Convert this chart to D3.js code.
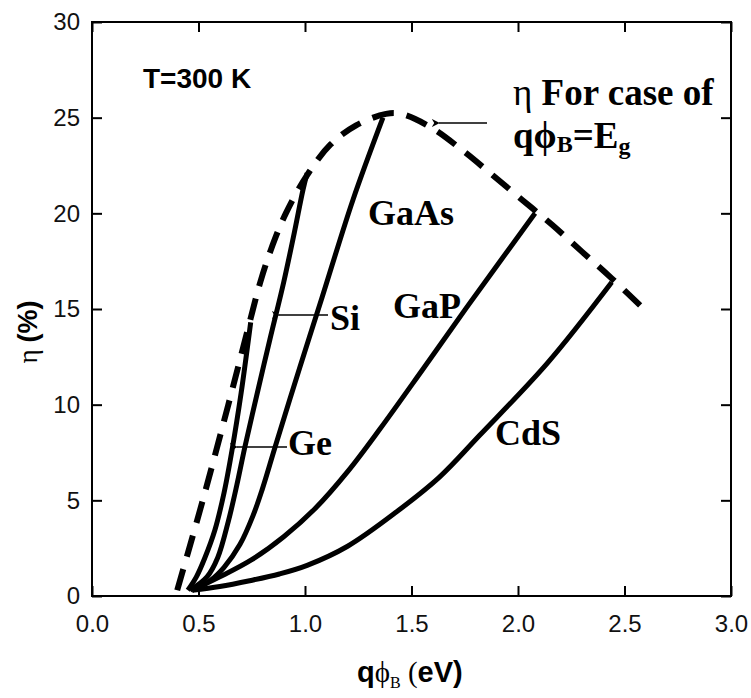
<!DOCTYPE html>
<html>
<head>
<meta charset="utf-8">
<script src="https://cdn.jsdelivr.net/npm/d3@7"></script>
<style>
  body { margin: 0; background: #fff; }
  svg { display: block; }
</style>
</head>
<body>
<div id="chart"></div>
<script>
// Efficiency vs barrier height
const xTicks = [0.0, 0.5, 1.0, 1.5, 2.0, 2.5, 3.0];
const yTicks = [0, 5, 10, 15, 20, 25, 30];

const limitX = [0.40, 0.52, 0.64, 0.74, 0.79, 0.84, 0.91, 1.01, 1.12, 1.24, 1.38, 1.45, 1.59, 1.75, 1.88, 2.02, 2.16, 2.30, 2.44, 2.61];
const limitY = [0.3, 5.0, 10.0, 14.3, 16.4, 18.1, 20.0, 22.0, 23.6, 24.6, 25.2, 25.2, 24.5, 23.2, 22.0, 20.7, 19.4, 18.0, 16.6, 14.8];

const geX = [0.45, 0.49, 0.53, 0.577, 0.62, 0.657, 0.70, 0.745];
const geY = [0.3, 1.0, 2.0, 3.45, 5.4, 7.6, 10.6, 14.3];

const siX = [0.46, 0.54, 0.59, 0.64, 0.68, 0.718, 0.78, 0.835, 0.90, 0.95, 0.99, 1.01];
const siY = [0.3, 1.0, 2.0, 3.9, 5.8, 7.8, 10.8, 13.4, 16.4, 19.0, 21.2, 22.1];

const gaasX = [0.47, 0.554, 0.62, 0.695, 0.756, 0.80, 0.86, 0.977, 1.08, 1.225, 1.366];
const gaasY = [0.3, 0.8, 1.5, 2.7, 4.2, 5.6, 7.8, 12.0, 15.6, 20.7, 25.0];

const gapX = [0.47, 0.60, 0.75, 0.90, 1.05, 1.20, 1.35, 1.55, 1.76, 2.08];
const gapY = [0.3, 1.0, 1.9, 3.1, 4.6, 6.5, 8.7, 11.8, 15.1, 20.0];

const cdsX = [0.47, 0.60, 0.74, 0.88, 1.01, 1.20, 1.43, 1.63, 1.82, 2.14, 2.44];
const cdsY = [0.3, 0.5, 0.8, 1.15, 1.6, 2.6, 4.4, 6.2, 8.4, 12.2, 16.4];

const width = 751, height = 698;
const margin = { top: 22, right: 20, bottom: 102, left: 92 };
const sans = "Arial, 'Liberation Sans', sans-serif";
const serif = "'Times New Roman', 'Liberation Serif', serif";

const svg = d3.select("#chart").append("svg")
    .attr("width", width)
    .attr("height", height);

const x = d3.scaleLinear().domain([0, 3]).range([margin.left, width - margin.right]);
const y = d3.scaleLinear().domain([0, 30]).range([height - margin.bottom, margin.top]);

svg.append("defs").append("marker")
    .attr("id", "arrow")
    .attr("viewBox", "0 0 10 10")
    .attr("refX", 1).attr("refY", 5)
    .attr("markerWidth", 8).attr("markerHeight", 8)
    .attr("markerUnits", "userSpaceOnUse")
    .attr("orient", "auto-start-reverse")
    .append("path")
    .attr("d", "M0,5 L10,0 L7,5 L10,10 Z")
    .attr("fill", "#000");

// Axes, ticks pointing inward on all four sides
svg.append("g")
    .attr("transform", `translate(0,${y(0)})`)
    .call(d3.axisBottom(x).tickValues(xTicks).tickSize(-10).tickPadding(19).tickFormat(d3.format(".1f")));
svg.append("g")
    .attr("transform", `translate(${x(0)},0)`)
    .call(d3.axisLeft(y).tickValues(yTicks).tickSize(-10).tickPadding(12).tickFormat(d3.format("d")));
svg.append("g")
    .attr("transform", `translate(0,${y(30)})`)
    .call(d3.axisTop(x).tickValues(xTicks).tickSize(-10).tickFormat(""));
svg.append("g")
    .attr("transform", `translate(${x(3)},0)`)
    .call(d3.axisRight(y).tickValues(yTicks).tickSize(-10).tickFormat(""));

svg.selectAll(".domain").remove();
svg.selectAll(".tick line").attr("stroke", "#000").attr("stroke-width", 2);
svg.selectAll(".tick text")
    .attr("font-family", sans)
    .attr("font-size", 24)
    .attr("fill", "#111");

svg.append("rect")
    .attr("x", x(0)).attr("y", y(30))
    .attr("width", x(3) - x(0)).attr("height", y(0) - y(30))
    .attr("fill", "none")
    .attr("stroke", "#000")
    .attr("stroke-width", 2);

// Curves
const line = d3.line()
    .x(d => x(d[0]))
    .y(d => y(d[1]))
    .curve(d3.curveCatmullRom.alpha(0.5));

const solids = [[geX, geY], [siX, siY], [gaasX, gaasY], [gapX, gapY], [cdsX, cdsY]];
solids.forEach(([xs, ys]) => {
    svg.append("path")
        .datum(d3.zip(xs, ys))
        .attr("fill", "none")
        .attr("stroke", "#000")
        .attr("stroke-width", 5)
        .attr("d", line);
});

svg.append("path")
    .datum(d3.zip(limitX, limitY))
    .attr("fill", "none")
    .attr("stroke", "#000")
    .attr("stroke-width", 6)
    .attr("stroke-dasharray", "22,13")
    .attr("d", line);

// Labels
const labelFont = (sel, size) => sel
    .attr("font-family", serif)
    .attr("font-weight", "bold")
    .attr("font-size", size)
    .attr("fill", "#000");

svg.append("text").attr("x", 368).attr("y", 225).call(labelFont, 36).text("GaAs");
svg.append("text").attr("x", 393).attr("y", 318).call(labelFont, 36).text("GaP");
svg.append("text").attr("x", 330).attr("y", 330).call(labelFont, 36).text("Si");
svg.append("text").attr("x", 288).attr("y", 455).call(labelFont, 36).text("Ge");
svg.append("text").attr("x", 495).attr("y", 445).call(labelFont, 36).text("CdS");

// Pointer arrows
const arrow = (x1, y1, x2, y2) => svg.append("line")
    .attr("x1", x1).attr("y1", y1).attr("x2", x2).attr("y2", y2)
    .attr("stroke", "#000")
    .attr("stroke-width", 1.5)
    .attr("marker-end", "url(#arrow)");

arrow(328, 315, 279, 315);
arrow(287, 447, 237, 447);
arrow(487, 123, 439, 123);

// Limit curve caption
const cap1 = svg.append("text").attr("x", 513).attr("y", 105).call(labelFont, 37);
cap1.append("tspan").attr("font-weight", "normal").text("η ");
cap1.append("tspan").text("For case of");

const cap2 = svg.append("text").attr("x", 513).attr("y", 148).call(labelFont, 37);
cap2.append("tspan").text("qϕ");
cap2.append("tspan").attr("font-size", 24).attr("dy", 4).text("B");
cap2.append("tspan").attr("dy", -4).text("=E");
cap2.append("tspan").attr("font-size", 24).attr("dy", 6).text("g");

svg.append("text")
    .attr("x", 143).attr("y", 88)
    .attr("font-family", sans)
    .attr("font-weight", "bold")
    .attr("font-size", 28)
    .text("T=300 K");

// Axis titles
const xt = svg.append("text")
    .attr("x", 357).attr("y", 682)
    .attr("font-family", sans)
    .attr("font-weight", "bold")
    .attr("font-size", 29);
xt.append("tspan").text("q");
xt.append("tspan").attr("font-family", serif).attr("font-weight", "normal").text("ϕ");
xt.append("tspan").attr("font-family", serif).attr("font-weight", "normal").attr("font-size", 16).attr("dy", 6).text("B");
xt.append("tspan").attr("font-family", serif).attr("font-weight", "normal").attr("dy", -6).text(" (");
xt.append("tspan").text("eV)");

const yt = svg.append("text")
    .attr("transform", "translate(37,332) rotate(-90)")
    .attr("text-anchor", "middle")
    .attr("font-family", sans)
    .attr("font-weight", "bold")
    .attr("font-size", 27);
yt.append("tspan").attr("font-family", serif).attr("font-weight", "normal").text("η ");
yt.append("tspan").text("(%)");
</script>
</body>
</html>
